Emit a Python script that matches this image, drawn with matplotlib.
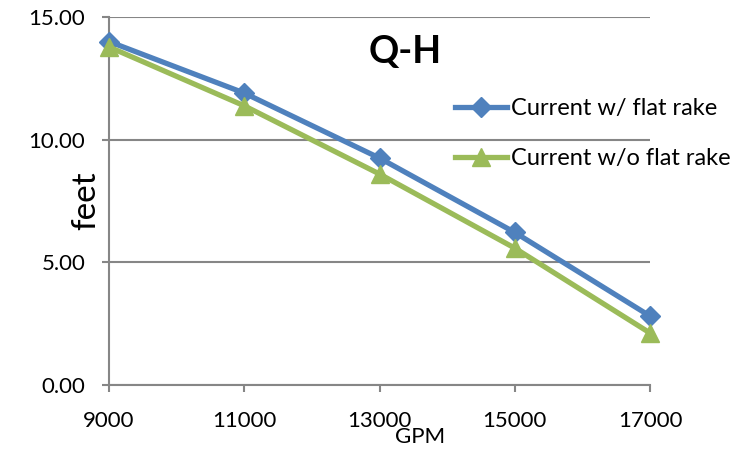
import matplotlib
matplotlib.use("Agg")
import matplotlib.pyplot as plt
from matplotlib.ticker import FormatStrFormatter

gpm = [9000, 11000, 13000, 15000, 17000]
with_rake = [14.0, 11.9, 9.25, 6.22, 2.81]
without_rake = [13.78, 11.38, 8.6, 5.58, 2.12]
x_ticks = [9000, 11000, 13000, 15000, 17000]
y_ticks = [0, 5, 10, 15]

blue = "#4F81BD"
green = "#9BBB59"
grid = "#868686"

plt.rcParams['font.family'] = ['Lato', 'DejaVu Sans']

fig = plt.figure(figsize=(7.52, 4.54), dpi=100)
ax = fig.add_axes([109/752, 1-385/454, (650-109)/752, (385-17)/454])

ax.plot(gpm, with_rake, color=blue, lw=3.8, marker="D", ms=10,
        label="Current w/ flat rake", zorder=3, clip_on=False)
ax.plot(gpm, without_rake, color=green, lw=3.8, marker="^", ms=13,
        label="Current w/o flat rake", zorder=3, clip_on=False)

ax.set_xlim(9000, 17000)
ax.set_ylim(0, 15)
ax.set_xticks(x_ticks)
ax.set_yticks(y_ticks)
ax.yaxis.set_major_formatter(FormatStrFormatter("%.2f"))
ax.grid(axis="y", color=grid, lw=1.5)
ax.set_axisbelow(True)
for s in ["top", "right"]:
    ax.spines[s].set_visible(False)
for s in ["left", "bottom"]:
    ax.spines[s].set_color(grid)
    ax.spines[s].set_linewidth(1.5)
ax.tick_params(direction="out", length=5, width=1.5, color=grid,
               labelsize=16)
ax.tick_params(axis="y", pad=12)
ax.tick_params(axis="x", pad=14)

ax.set_xlabel("GPM", fontsize=16)
ax.xaxis.set_label_coords((420-109)/541, (385-427)/368)
ax.set_ylabel("feet", fontsize=24)
ax.yaxis.set_label_coords((101-109)/541, 0.5)
ax.text((405-109)/541, (385-52)/368, "Q-H", transform=ax.transAxes,
        fontsize=27, fontweight="bold", ha="center", va="center")

ax.legend(loc="upper left", bbox_to_anchor=((446-109)/541, (385-89)/368),
          frameon=False, fontsize=17, labelspacing=1.2,
          handlelength=2.2, handletextpad=0.15, borderaxespad=0)

fig.savefig("out.png", dpi=100)
